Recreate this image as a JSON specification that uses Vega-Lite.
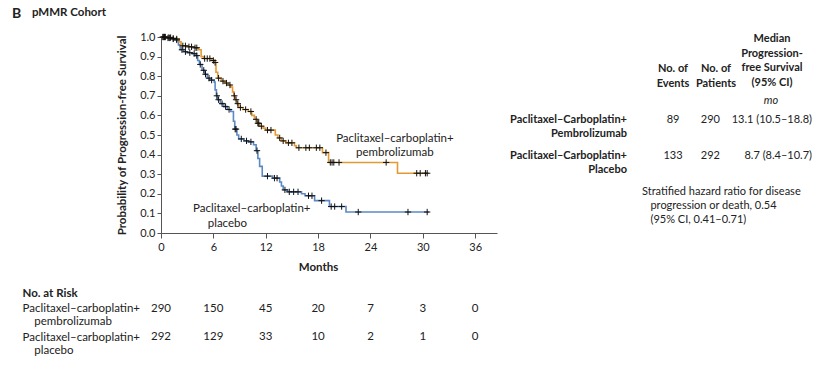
{
  "$schema": "https://vega.github.io/schema/vega-lite/v6.json",
  "padding": {"left": 12, "top": 6, "right": 0, "bottom": 0},
  "background": "white",
  "config": {
    "font": "Lato",
    "view": {"stroke": null},
    "axis": {"domainColor": "#555", "tickColor": "#555", "labelColor": "#222", "titleColor": "#222", "grid": false, "labelFont": "Lato", "titleFont": "Lato"},
    "axisY": {"labelOverlap": false},
    "title": {"font": "Lato", "color": "#222"},
    "text": {"font": "Lato", "color": "#222"}
  },
  "bounds": "flush",
  "columns": 2,
  "spacing": {"row": 67, "column": 16},
  "datasets": {
    "curve": [
      {"arm":"placebo","t":0,"s":1.0},{"arm":"placebo","t":0.6,"s":0.995},{"arm":"placebo","t":1.2,"s":0.99},{"arm":"placebo","t":1.6,"s":0.985},{"arm":"placebo","t":2.0,"s":0.96},{"arm":"placebo","t":2.2,"s":0.935},{"arm":"placebo","t":2.6,"s":0.925},{"arm":"placebo","t":3.0,"s":0.92},{"arm":"placebo","t":3.6,"s":0.915},{"arm":"placebo","t":4.0,"s":0.905},{"arm":"placebo","t":4.2,"s":0.88},{"arm":"placebo","t":4.4,"s":0.86},{"arm":"placebo","t":4.7,"s":0.83},{"arm":"placebo","t":5.0,"s":0.81},{"arm":"placebo","t":5.3,"s":0.79},{"arm":"placebo","t":5.6,"s":0.78},{"arm":"placebo","t":6.1,"s":0.77},{"arm":"placebo","t":6.2,"s":0.73},{"arm":"placebo","t":6.35,"s":0.7},{"arm":"placebo","t":6.5,"s":0.68},{"arm":"placebo","t":6.8,"s":0.66},{"arm":"placebo","t":7.2,"s":0.645},{"arm":"placebo","t":7.6,"s":0.63},{"arm":"placebo","t":8.0,"s":0.62},{"arm":"placebo","t":8.3,"s":0.57},{"arm":"placebo","t":8.45,"s":0.53},{"arm":"placebo","t":8.7,"s":0.5},{"arm":"placebo","t":8.9,"s":0.48},{"arm":"placebo","t":9.5,"s":0.47},{"arm":"placebo","t":10.0,"s":0.465},{"arm":"placebo","t":10.6,"s":0.45},{"arm":"placebo","t":10.9,"s":0.42},{"arm":"placebo","t":11.1,"s":0.38},{"arm":"placebo","t":11.3,"s":0.34},{"arm":"placebo","t":11.6,"s":0.29},{"arm":"placebo","t":12.8,"s":0.28},{"arm":"placebo","t":13.6,"s":0.26},{"arm":"placebo","t":13.8,"s":0.24},{"arm":"placebo","t":14.0,"s":0.22},{"arm":"placebo","t":14.5,"s":0.21},{"arm":"placebo","t":16.1,"s":0.2},{"arm":"placebo","t":16.5,"s":0.19},{"arm":"placebo","t":17.6,"s":0.165},{"arm":"placebo","t":19.3,"s":0.135},{"arm":"placebo","t":21.2,"s":0.107},{"arm":"placebo","t":30.7,"s":0.107},
      {"arm":"pembro","t":0,"s":1.0},{"arm":"pembro","t":0.7,"s":0.997},{"arm":"pembro","t":1.2,"s":0.993},{"arm":"pembro","t":1.7,"s":0.99},{"arm":"pembro","t":2.1,"s":0.975},{"arm":"pembro","t":2.3,"s":0.955},{"arm":"pembro","t":3.0,"s":0.95},{"arm":"pembro","t":3.8,"s":0.945},{"arm":"pembro","t":4.3,"s":0.935},{"arm":"pembro","t":4.6,"s":0.9},{"arm":"pembro","t":4.9,"s":0.89},{"arm":"pembro","t":5.8,"s":0.88},{"arm":"pembro","t":6.1,"s":0.87},{"arm":"pembro","t":6.3,"s":0.82},{"arm":"pembro","t":6.5,"s":0.79},{"arm":"pembro","t":6.9,"s":0.775},{"arm":"pembro","t":7.3,"s":0.765},{"arm":"pembro","t":7.7,"s":0.755},{"arm":"pembro","t":8.0,"s":0.745},{"arm":"pembro","t":8.2,"s":0.72},{"arm":"pembro","t":8.35,"s":0.7},{"arm":"pembro","t":8.5,"s":0.68},{"arm":"pembro","t":8.7,"s":0.66},{"arm":"pembro","t":8.9,"s":0.64},{"arm":"pembro","t":9.4,"s":0.63},{"arm":"pembro","t":10.0,"s":0.62},{"arm":"pembro","t":10.4,"s":0.6},{"arm":"pembro","t":10.7,"s":0.58},{"arm":"pembro","t":11.0,"s":0.56},{"arm":"pembro","t":11.3,"s":0.545},{"arm":"pembro","t":11.7,"s":0.535},{"arm":"pembro","t":12.0,"s":0.525},{"arm":"pembro","t":13.1,"s":0.5},{"arm":"pembro","t":13.4,"s":0.485},{"arm":"pembro","t":13.8,"s":0.47},{"arm":"pembro","t":14.3,"s":0.46},{"arm":"pembro","t":15.3,"s":0.445},{"arm":"pembro","t":15.5,"s":0.435},{"arm":"pembro","t":18.5,"s":0.41},{"arm":"pembro","t":19.2,"s":0.36},{"arm":"pembro","t":27.1,"s":0.305},{"arm":"pembro","t":30.5,"s":0.305}
    ],
    "censor": [
      {"arm":"pembro","t":0.3,"s":1.0},{"arm":"pembro","t":0.5,"s":1.0},{"arm":"pembro","t":0.9,"s":0.997},{"arm":"pembro","t":1.1,"s":0.997},{"arm":"pembro","t":1.4,"s":0.993},{"arm":"pembro","t":1.8,"s":0.99},{"arm":"pembro","t":2.5,"s":0.955},{"arm":"pembro","t":2.8,"s":0.955},{"arm":"pembro","t":3.2,"s":0.95},{"arm":"pembro","t":3.5,"s":0.95},{"arm":"pembro","t":3.9,"s":0.945},{"arm":"pembro","t":4.1,"s":0.945},{"arm":"pembro","t":5.0,"s":0.89},{"arm":"pembro","t":5.3,"s":0.89},{"arm":"pembro","t":5.6,"s":0.89},{"arm":"pembro","t":6.0,"s":0.88},{"arm":"pembro","t":6.2,"s":0.87},{"arm":"pembro","t":6.6,"s":0.79},{"arm":"pembro","t":7.1,"s":0.775},{"arm":"pembro","t":7.5,"s":0.765},{"arm":"pembro","t":7.9,"s":0.755},{"arm":"pembro","t":8.4,"s":0.7},{"arm":"pembro","t":8.6,"s":0.68},{"arm":"pembro","t":8.8,"s":0.66},{"arm":"pembro","t":9.1,"s":0.64},{"arm":"pembro","t":9.7,"s":0.63},{"arm":"pembro","t":10.3,"s":0.62},{"arm":"pembro","t":10.9,"s":0.58},{"arm":"pembro","t":11.1,"s":0.56},{"arm":"pembro","t":11.2,"s":0.56},{"arm":"pembro","t":11.5,"s":0.545},{"arm":"pembro","t":12.2,"s":0.525},{"arm":"pembro","t":12.6,"s":0.525},{"arm":"pembro","t":13.6,"s":0.485},{"arm":"pembro","t":14.0,"s":0.47},{"arm":"pembro","t":14.6,"s":0.46},{"arm":"pembro","t":15.0,"s":0.46},{"arm":"pembro","t":15.8,"s":0.435},{"arm":"pembro","t":16.6,"s":0.435},{"arm":"pembro","t":17.0,"s":0.435},{"arm":"pembro","t":17.8,"s":0.435},{"arm":"pembro","t":18.2,"s":0.435},{"arm":"pembro","t":18.9,"s":0.41},{"arm":"pembro","t":19.4,"s":0.36},{"arm":"pembro","t":19.6,"s":0.36},{"arm":"pembro","t":19.8,"s":0.36},{"arm":"pembro","t":20.4,"s":0.36},{"arm":"pembro","t":25.8,"s":0.36},{"arm":"pembro","t":29.3,"s":0.305},{"arm":"pembro","t":29.7,"s":0.305},{"arm":"pembro","t":30.3,"s":0.305},{"arm":"pembro","t":30.5,"s":0.305},
      {"arm":"placebo","t":0.2,"s":1.0},{"arm":"placebo","t":0.4,"s":1.0},{"arm":"placebo","t":0.8,"s":0.995},{"arm":"placebo","t":1.0,"s":0.995},{"arm":"placebo","t":1.4,"s":0.99},{"arm":"placebo","t":1.8,"s":0.985},{"arm":"placebo","t":2.4,"s":0.935},{"arm":"placebo","t":2.8,"s":0.925},{"arm":"placebo","t":3.3,"s":0.92},{"arm":"placebo","t":3.8,"s":0.915},{"arm":"placebo","t":4.1,"s":0.905},{"arm":"placebo","t":4.5,"s":0.86},{"arm":"placebo","t":4.9,"s":0.83},{"arm":"placebo","t":5.1,"s":0.81},{"arm":"placebo","t":5.5,"s":0.79},{"arm":"placebo","t":5.8,"s":0.78},{"arm":"placebo","t":6.4,"s":0.7},{"arm":"placebo","t":6.6,"s":0.68},{"arm":"placebo","t":7.0,"s":0.66},{"arm":"placebo","t":7.4,"s":0.645},{"arm":"placebo","t":7.8,"s":0.63},{"arm":"placebo","t":8.5,"s":0.53},{"arm":"placebo","t":8.6,"s":0.53},{"arm":"placebo","t":9.2,"s":0.48},{"arm":"placebo","t":9.8,"s":0.47},{"arm":"placebo","t":10.3,"s":0.465},{"arm":"placebo","t":11.0,"s":0.42},{"arm":"placebo","t":12.2,"s":0.29},{"arm":"placebo","t":13.0,"s":0.28},{"arm":"placebo","t":13.3,"s":0.28},{"arm":"placebo","t":14.2,"s":0.22},{"arm":"placebo","t":14.7,"s":0.21},{"arm":"placebo","t":15.2,"s":0.21},{"arm":"placebo","t":15.7,"s":0.21},{"arm":"placebo","t":16.9,"s":0.19},{"arm":"placebo","t":17.3,"s":0.19},{"arm":"placebo","t":18.4,"s":0.165},{"arm":"placebo","t":19.5,"s":0.135},{"arm":"placebo","t":19.9,"s":0.135},{"arm":"placebo","t":20.7,"s":0.135},{"arm":"placebo","t":22.6,"s":0.107},{"arm":"placebo","t":28.3,"s":0.107},{"arm":"placebo","t":30.5,"s":0.107}
    ],
    "labelPembro": [{"t":26.8,"s":0.48,"label":"Paclitaxel–carboplatin+\npembrolizumab"}],
    "labelPlacebo": [{"t":3.67,"s":0.122,"label":"Paclitaxel–carboplatin+\n\u200b\u00a0\u00a0\u00a0\u00a0\u00a0placebo"}],
    "hdr": [
      {"col":"ev","row":"hdr","text":"No. of\nEvents"},
      {"col":"pt","row":"hdr","text":"No. of\nPatients"},
      {"col":"med","row":"hdr","text":"Median\nProgression-\nfree Survival\n(95% CI)"}
    ],
    "unit": [{"col":"med","row":"mo","text":"mo"}],
    "arms": [
      {"row":"r1","label":"Paclitaxel–Carboplatin+\nPembrolizumab","events":"89","patients":"290","median":"13.1 (10.5–18.8)"},
      {"row":"r2","label":"Paclitaxel–Carboplatin+\nPlacebo","events":"133","patients":"292","median":"8.7 (8.4–10.7)"}
    ],
    "note": [{"row":"note","text":"Stratified hazard ratio for disease\n\u200b\u00a0\u00a0\u00a0progression or death, 0.54\n\u200b\u00a0\u00a0\u00a0(95% CI, 0.41–0.71)"}],
    "risk": [
      {"arm":"pembro","t":0,"n":290},{"arm":"pembro","t":6,"n":150},{"arm":"pembro","t":12,"n":45},{"arm":"pembro","t":18,"n":20},{"arm":"pembro","t":24,"n":7},{"arm":"pembro","t":30,"n":3},{"arm":"pembro","t":36,"n":0},
      {"arm":"placebo","t":0,"n":292},{"arm":"placebo","t":6,"n":129},{"arm":"placebo","t":12,"n":33},{"arm":"placebo","t":18,"n":10},{"arm":"placebo","t":24,"n":2},{"arm":"placebo","t":30,"n":1},{"arm":"placebo","t":36,"n":0}
    ]
  },
  "concat": [
    {
      "width": 336,
      "height": 196,
      "title": {"text": "B", "anchor": "start", "frame": "group", "dx": -149, "fontSize": 14, "fontWeight": "bold", "offset": 10},
      "encoding": {
        "x": {"field": "t", "type": "quantitative", "scale": {"domain": [0, 38.5], "nice": false, "zero": false},
              "axis": {"values": [0, 6, 12, 18, 24, 30, 36], "tickSize": 5, "labelPadding": 3, "labelFontSize": 11, "labelFlush": false, "labelOverlap": false, "title": "Months", "titleFontSize": 11.5, "titleFontWeight": "bold", "titlePadding": 9, "titleX": 157}},
        "y": {"field": "s", "type": "quantitative", "scale": {"domain": [0, 1], "nice": false},
              "axis": {"values": [0, 0.1, 0.2, 0.3, 0.4, 0.5, 0.6, 0.7, 0.8, 0.9, 1], "format": ".1f", "tickSize": 4, "labelPadding": 2, "labelFontSize": 11, "labelOverlap": false, "labelFlush": false, "labelBound": false, "title": "Probability of Progression-free Survival", "titleFontSize": 11.5, "titleFontWeight": "bold", "titlePadding": 12}}
      },
      "layer": [
        {
          "data": {"name": "curve"},
          "mark": {"type": "line", "interpolate": "step-after", "strokeWidth": 1.6},
          "encoding": {
            "color": {"field": "arm", "type": "nominal", "scale": {"domain": ["pembro", "placebo"], "range": ["#E39A35", "#5B89C4"]}, "legend": null}
          }
        },
        {
          "data": {"name": "censor"},
          "mark": {"type": "point", "shape": "M-1,0L1,0M0,-1L0,1", "size": 40, "filled": false, "stroke": "#111", "strokeWidth": 1, "opacity": 1},
          "encoding": {}
        },
        {
          "data": {"name": "labelPembro"},
          "mark": {"type": "text", "lineBreak": "\n", "fontSize": 11.5, "lineHeight": 14.5, "align": "center", "baseline": "middle"},
          "encoding": {"text": {"field": "label"}}
        },
        {
          "data": {"name": "labelPlacebo"},
          "mark": {"type": "text", "lineBreak": "\n", "fontSize": 11.5, "lineHeight": 14.5, "align": "left", "baseline": "middle"},
          "encoding": {"text": {"field": "label"}}
        }
      ]
    },
    {
      "width": 300,
      "height": 164,
      "title": {"text": "pMMR Cohort", "anchor": "start", "frame": "group", "dx": -481, "fontSize": 11.5, "fontWeight": "bold", "offset": 15},
      "layer": [
        {
          "data": {"name": "hdr"},
          "transform": [{"filter": "datum.col == 'ev'"}],
          "mark": {"type": "text", "lineBreak": "\n", "fontWeight": "bold", "fontSize": 11, "lineHeight": 14.5, "baseline": "top", "align": "center", "dx": 60, "dy": 16},
          "encoding": {
            "x": {"field": "col", "type": "nominal", "scale": {"type": "point", "domain": ["lab", "ev", "pt", "med"], "padding": 0}, "axis": null},
            "y": {"field": "row", "type": "nominal", "scale": {"type": "point", "domain": ["hdr", "mo", "r1", "r2", "note"], "padding": 0.2778}, "axis": null},
            "text": {"field": "text"}
          }
        },
        {
          "data": {"name": "hdr"},
          "transform": [{"filter": "datum.col == 'pt'"}],
          "mark": {"type": "text", "lineBreak": "\n", "fontWeight": "bold", "fontSize": 11, "lineHeight": 14.5, "baseline": "top", "align": "center", "dx": 3, "dy": 16},
          "encoding": {
            "x": {"field": "col", "type": "nominal"},
            "y": {"field": "row", "type": "nominal"},
            "text": {"field": "text"}
          }
        },
        {
          "data": {"name": "hdr"},
          "transform": [{"filter": "datum.col == 'med'"}],
          "mark": {"type": "text", "lineBreak": "\n", "fontWeight": "bold", "fontSize": 11, "lineHeight": 14.5, "baseline": "top", "align": "center", "dx": -41, "dy": -14},
          "encoding": {
            "x": {"field": "col", "type": "nominal"},
            "y": {"field": "row", "type": "nominal"},
            "text": {"field": "text"}
          }
        },
        {
          "data": {"name": "unit"},
          "mark": {"type": "text", "fontStyle": "italic", "fontSize": 11, "baseline": "middle", "align": "center", "dx": -42, "dy": 18},
          "encoding": {
            "x": {"field": "col", "type": "nominal"},
            "y": {"field": "row", "type": "nominal"},
            "text": {"field": "text"}
          }
        },
        {
          "data": {"name": "arms"},
          "mark": {"type": "text", "lineBreak": "\n", "fontWeight": "bold", "fontSize": 11, "lineHeight": 14, "baseline": "top", "align": "right", "dx": 114, "dy": -5},
          "encoding": {
            "x": {"datum": "lab", "type": "nominal"},
            "y": {"field": "row", "type": "nominal"},
            "text": {"field": "label"}
          }
        },
        {
          "data": {"name": "arms"},
          "mark": {"type": "text", "fontSize": 11, "baseline": "top", "align": "center", "dx": 60, "dy": -5},
          "encoding": {
            "x": {"datum": "ev", "type": "nominal"},
            "y": {"field": "row", "type": "nominal"},
            "text": {"field": "events"}
          }
        },
        {
          "data": {"name": "arms"},
          "mark": {"type": "text", "fontSize": 11, "baseline": "top", "align": "right", "dx": 7, "dy": -5},
          "encoding": {
            "x": {"datum": "pt", "type": "nominal"},
            "y": {"field": "row", "type": "nominal"},
            "text": {"field": "patients"}
          }
        },
        {
          "data": {"name": "arms"},
          "mark": {"type": "text", "fontSize": 11, "baseline": "top", "align": "right", "dx": -1, "dy": -5},
          "encoding": {
            "x": {"datum": "med", "type": "nominal"},
            "y": {"field": "row", "type": "nominal"},
            "text": {"field": "median"}
          }
        },
        {
          "data": {"name": "note"},
          "mark": {"type": "text", "lineBreak": "\n", "fontSize": 11, "lineHeight": 14, "baseline": "top", "align": "left", "dx": 29, "dy": -5},
          "encoding": {
            "x": {"datum": "ev", "type": "nominal"},
            "y": {"field": "row", "type": "nominal"},
            "text": {"field": "text"}
          }
        }
      ]
    },
    {
      "width": 336,
      "height": 46,
      "data": {"name": "risk"},
      "mark": {"type": "text", "fontSize": 11.5, "baseline": "middle", "align": "center"},
      "encoding": {
        "x": {"field": "t", "type": "quantitative", "scale": {"domain": [0, 38.5], "nice": false, "zero": false}, "axis": null},
        "y": {"field": "arm", "type": "nominal", "scale": {"type": "point", "domain": ["pembro", "placebo"], "padding": 0.321},
              "axis": {"title": "No. at Risk", "titleAngle": 0, "titleAlign": "left", "titleBaseline": "middle", "titleX": -139, "titleY": -7, "titleFontWeight": "bold", "titleFontSize": 11.5,
                       "labelAlign": "left", "labelPadding": 139, "ticks": false, "tickSize": 0, "domain": false, "labelFontSize": 11.5, "labelLineHeight": 13, "labelBaseline": "middle", "labelOffset": 0, "labelLimit": 200, "labelOverlap": false,
                       "labelExpr": "datum.value == 'pembro' ? ['Paclitaxel–carboplatin+', '\u200b\u00a0\u00a0\u00a0\u00a0pembrolizumab'] : ['Paclitaxel–carboplatin+', '\u200b\u00a0\u00a0\u00a0\u00a0placebo']"}},
        "text": {"field": "n", "type": "quantitative"}
      }
    }
  ]
}
